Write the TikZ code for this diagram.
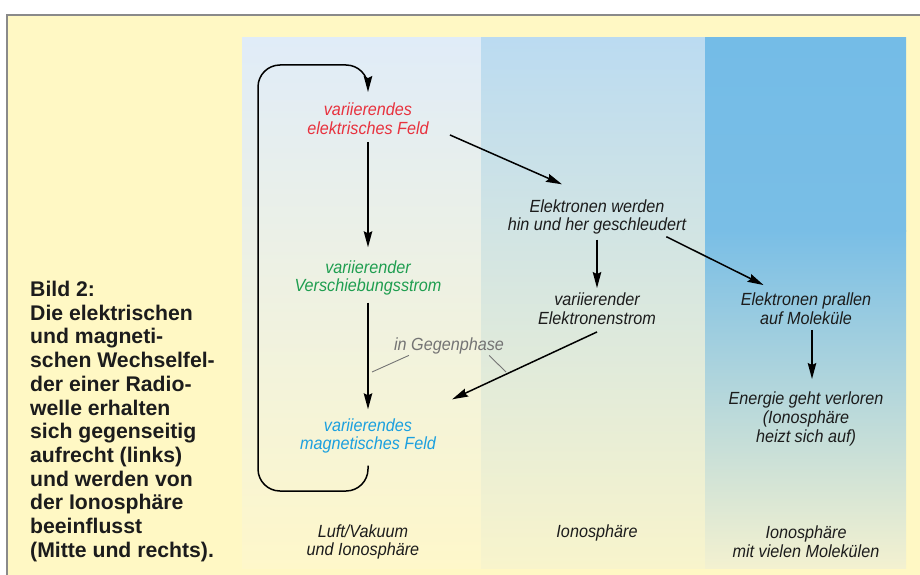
\documentclass[tikz,border=0pt]{standalone}
\usepackage{fontspec}
\setmainfont{Liberation Sans}
\newfontfamily\lblfont[FakeStretch=0.92]{Liberation Sans}
\usepackage{tikz}
\usetikzlibrary{arrows.meta}
\definecolor{paper}{HTML}{FFF8C4}
\definecolor{rim}{HTML}{8A8A8A}
\definecolor{ink}{HTML}{1C1C1C}
\definecolor{efcol}{HTML}{E8323E}
\definecolor{vscol}{HTML}{1F9E50}
\definecolor{mfcol}{HTML}{1BA0DF}
\definecolor{gpcol}{HTML}{747474}
\definecolor{molblue}{RGB}{121,190,230}

\begin{document}
\begin{tikzpicture}[x=1pt, y=-1pt,
		lbl/.style={font=\lblfont\fontsize{17.6}{18.6}\selectfont\itshape, align=center, inner sep=5pt, text=ink},
		capt/.style={font=\fontsize{21.2}{23.7}\selectfont\bfseries, align=left, inner sep=0pt, text=ink},
		arr/.style={draw=black, line width=1.5pt, -{Stealth[length=16pt,width=8.5pt,inset=2pt]}},
		thin/.style={draw=gpcol, line width=0.9pt}]
				\useasboundingbox (0,0) rectangle (920,575);
				\clip (0,0) rectangle (920,575);
				\fill[white] (0,0) rectangle (920,575);
				\draw[draw=rim, line width=1.5pt, fill=paper] (7,15) rectangle (940,600);
				% drei Zonen
				\shade[top color={rgb,255:red,224;green,236;blue,248}, middle color={rgb,255:red,229;green,237;blue,238}, bottom color={rgb,255:red,254;green,247;blue,202}] (242,38) rectangle (481,568);
				\shade[top color={rgb,255:red,187;green,219;blue,241}, middle color={rgb,255:red,200;green,223;blue,233}, bottom color={rgb,255:red,248;green,244;blue,204}] (481,38) rectangle (705,568);
				\shade[top color={rgb,255:red,116;green,188;blue,231}, bottom color=molblue] (705,38) rectangle (906,231);
				\shade[top color=molblue, middle color={rgb,255:red,176;green,214;blue,219}, bottom color={rgb,255:red,243;green,241;blue,208}] (705,230) rectangle (906,568);
				\node[capt, anchor=north west] (cap) at (30,281) {Bild 2:\\Die elektrischen\\und magneti-\\schen Wechselfel-\\der einer Radio-\\welle erhalten\\sich gegenseitig\\aufrecht (links)\\und werden von\\der Ionosphäre\\beeinflusst\\(Mitte und rechts).};
				\node[lbl, text=efcol] (efeld) at (368,119) {variierendes\\elektrisches Feld};
				\node[lbl, text=vscol] (vstrom) at (368,278) {variierender\\Verschiebungsstrom};
				\node[lbl, text=mfcol] (mfeld) at (368,436) {variierendes\\magnetisches Feld};
				\node[lbl] (eschleu) at (597,217) {Elektronen werden\\hin und her geschleudert};
				\node[lbl] (estrom) at (597,309) {variierender\\Elektronenstrom};
				\node[lbl] (eprall) at (806,309) {Elektronen prallen\\auf Moleküle};
				\node[lbl] (energie) at (806,419) {Energie geht verloren\\(Ionosphäre\\heizt sich auf)};
				\node[lbl, text=gpcol] (gegen) at (449,346) {in Gegenphase};
				\node[lbl] (luft) at (363,542) {Luft/Vakuum\\und Ionosphäre};
				\node[lbl] (iono) at (597,533) {Ionosphäre};
				\node[lbl] (ionomol) at (806,542) {Ionosphäre\\mit vielen Molekülen};
				\coordinate (loopbot) at (258,491);
				\coordinate (looptop) at (258,65);
				\coordinate (gl) at (372,372);
				\coordinate (gr) at (506,372);
				\draw[arr] ([yshift=-2pt]efeld.south) -- ([yshift=8pt]vstrom.north);
				\draw[arr] ([yshift=-2pt]vstrom.south) -- ([yshift=4pt]mfeld.north);
				\draw[arr, rounded corners=22pt] ([yshift=-7pt]mfeld.south) |- (loopbot) -- (looptop) -| ([yshift=6pt]efeld.north);
				\draw[arr] ([shift={(16pt,5pt)}]efeld.south east) -- ([shift={(-35pt,10pt)}]eschleu.north);
				\draw[arr] (eschleu) -- (estrom);
				\draw[arr] ([shift={(-25pt,3pt)}]eschleu.south east) -- ([shift={(28pt,3pt)}]eprall.north west);
				\draw[arr] ([yshift=-2pt]estrom.south) -- ([shift={(11pt,14pt)}]mfeld.north east);
				\draw[arr] ([xshift=6pt]eprall.south) -- ([xshift=6pt,yshift=8pt]energie.north);
				\draw[thin] ([shift={(20pt,4pt)}]gegen.south west) -- (gl);
				\draw[thin] ([shift={(-20pt,4pt)}]gegen.south east) -- (gr);
			\end{tikzpicture}
\end{document}
